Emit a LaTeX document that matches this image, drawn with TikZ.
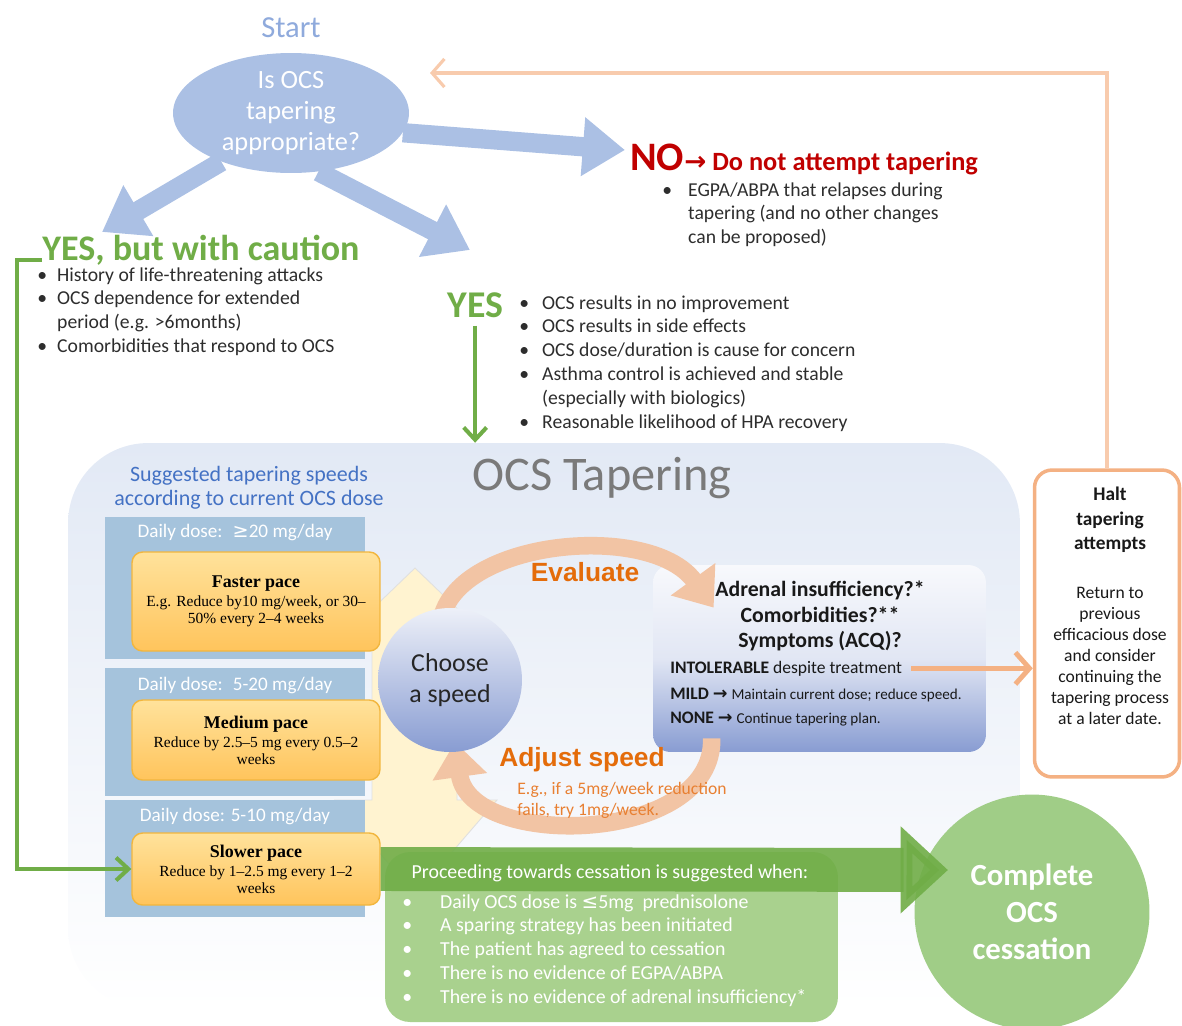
\documentclass[tikz,border=0pt]{standalone}
\usepackage{fontspec}
\setmainfont{Carlito}
\newfontfamily\arialfont{Liberation Sans}
\newfontfamily\timesfont{Liberation Serif}
\newfontfamily\symfont{DejaVu Sans}
\usetikzlibrary{arrows.meta,shapes.geometric}

\definecolor{startblue}{RGB}{143,170,220}
\definecolor{qblue}{RGB}{171,192,228}
\definecolor{okgreen}{RGB}{112,173,71}
\definecolor{nored}{RGB}{192,0,0}
\definecolor{evalorange}{RGB}{228,108,10}
\definecolor{noteorange}{RGB}{232,128,50}
\definecolor{arcorange}{RGB}{242,196,164}
\definecolor{haltorange}{RGB}{244,177,131}
\definecolor{backorange}{RGB}{248,203,173}
\definecolor{doseblue}{RGB}{165,195,220}
\definecolor{paceA}{RGB}{255,226,155}
\definecolor{paceB}{RGB}{255,196,92}
\definecolor{paceline}{RGB}{242,182,62}
\definecolor{panelblue}{RGB}{226,233,245}
\definecolor{evalblue}{RGB}{136,156,210}
\definecolor{lightgreen}{RGB}{169,209,142}
\definecolor{cessgreen}{RGB}{160,205,135}
\definecolor{bodytext}{RGB}{45,45,45}
\definecolor{suggblue}{RGB}{68,114,196}
\definecolor{cream}{RGB}{255,243,208}

\newcommand{\arr}{{\symfont →}}
\newcommand{\blist}[2]{\begin{tabular}[t]{@{}p{#1}@{}l@{}}#2\end{tabular}}

\begin{document}
\begin{tikzpicture}[x=0.02cm, y=-0.02cm, >=stealth,
  txt/.style={inner sep=0pt, font=\fontsize{11.2}{13.6}\selectfont, text=bodytext},
  bigarrow/.style={line width=11pt, qblue, -{Triangle[width=32pt,length=24pt]}},
  greenline/.style={line width=2.3pt, okgreen, -{Straight Barb[length=7pt,width=13pt]}},
  dosepanel/.style={fill=doseblue, minimum width=5.2cm, inner sep=0pt},
  dosehead/.style={inner sep=0pt, text=white, font=\fontsize{10.9}{12}\selectfont},
  pacebox/.style={draw=paceline, line width=0.8pt, rounded corners=6pt,
                  top color=paceA, bottom color=paceB, minimum width=4.96cm,
                  align=center, font=\timesfont\fontsize{8.8}{9.8}\selectfont},
  cyclearrow/.style={line width=10pt, arcorange, -{Triangle[width=30pt,length=20pt]}},
  cyclelabel/.style={text=evalorange, font=\arialfont\bfseries\fontsize{15}{18}\selectfont}]

  \useasboundingbox (0,0) rectangle (1182,1025);

  % Start question
  \node[font=\fontsize{17.4}{20}\selectfont, text=startblue] (startlbl) at (291,28) {Start};
  \node[ellipse, fill=qblue, minimum width=4.72cm, minimum height=2.4cm, inner sep=0pt,
        align=center, text=white, font=\fontsize{15}{17.6}\selectfont] (start) at (291,113)
    {Is OCS\\tapering\\appropriate?};

  % NO
  \node[inner sep=0pt, anchor=base west, text=nored, font=\bfseries] (no) at (630,170)
    {{\fontsize{23}{26}\selectfont NO}{\fontsize{15}{18}\selectfont\arr\ Do not attempt tapering}};
  \node[txt, anchor=base west] (nolist) at (662,196)
    {\blist{14.7pt}{\textbullet & EGPA/ABPA that relapses during\\
                    & tapering (and no other changes\\
                    & can be proposed)}};

  % YES, but with caution
  \node[inner sep=0pt, anchor=base west, text=okgreen, font=\bfseries\fontsize{20.5}{24}\selectfont]
    (caution) at (42,260) {YES, but with caution};
  \node[txt, anchor=base west] (caulist) at (37,281)
    {\blist{11.3pt}{\textbullet & History of life-threatening attacks\\
                    \textbullet & OCS dependence for extended\\
                    & period (e.g. >6months)\\
                    \textbullet & Comorbidities that respond to OCS}};

  % YES
  \node[inner sep=0pt, anchor=base west, text=okgreen, font=\bfseries\fontsize{21.5}{24}\selectfont]
    (yes) at (447,317) {YES};
  \node[txt, anchor=base west] (yeslist) at (519,309)
    {\blist{13pt}{\textbullet & OCS results in no improvement\\
                  \textbullet & OCS results in side effects\\
                  \textbullet & OCS dose/duration is cause for concern\\
                  \textbullet & Asthma control is achieved and stable\\
                  & (especially with biologics)\\
                  \textbullet & Reasonable likelihood of HPA recovery}};

  % Blue arrows
  \coordinate (notip) at (625,150);
  \coordinate (cautip) at (102,232);
  \coordinate (yestip) at (470,250);
  \draw[bigarrow] (start.-10) -- (notip);
  \draw[bigarrow] (start.215) -- (cautip);
  \draw[bigarrow] (start.295) -- (yestip);

  % OCS Tapering panel
  \node[rounded corners=1.6cm, minimum width=19.04cm, minimum height=11.32cm,
        top color=panelblue, bottom color=white] (taper) at (544,726) {};
  \node[text=black!52, font=\fontsize{27.5}{32}\selectfont] (taptitle) at (602,478) {OCS Tapering};
  \node[text=suggblue, align=center, font=\fontsize{12.5}{13.6}\selectfont] (sugg) at (249,488)
    {Suggested tapering speeds\\according to current OCS dose};

  % pale up/down arrow behind the speeds
  \filldraw[fill=cream, draw=black!12, line width=0.5pt] (415,568) -- (493,643) -- (457,643)
    -- (457,800) -- (497,800) -- (415,895) -- (335,800) -- (372,800) -- (372,643)
    -- (337,643) -- cycle;

  % Dose panels
  \node[dosepanel, minimum height=2.84cm] (dose1) at (235,588) {};
  \node[dosepanel, minimum height=2.56cm] (dose2) at (235,732) {};
  \node[dosepanel, minimum height=2.34cm] (dose3) at (235,858.5) {};
  \node[dosehead] (head1) at (235,532) {Daily dose:~ {\symfont ≥}20 mg/day};
  \node[dosehead] (head2) at (235,685) {Daily dose:~ 5-20 mg/day};
  \node[dosehead] (head3) at (235,816) {Daily dose: 5-10 mg/day};

  % Pace boxes
  \node[pacebox, minimum height=1.98cm] (fast) at (256,601.5)
    {{\fontsize{10.2}{12}\selectfont\bfseries Faster pace}\\[1pt]
     E.g. Reduce by10 mg/week, or 30–\\50\% every 2–4 weeks};
  \node[pacebox, minimum height=1.6cm] (medium) at (256,740)
    {{\fontsize{10.2}{12}\selectfont\bfseries Medium pace}\\[1pt]
     Reduce by 2.5–5 mg every 0.5–2\\weeks};
  \node[pacebox, minimum height=1.44cm] (slow) at (256,869)
    {{\fontsize{10.2}{12}\selectfont\bfseries Slower pace}\\[1pt]
     Reduce by 1–2.5 mg every 1–2\\weeks};

  % Evaluation box
  \node[rounded corners=10pt, minimum width=6.66cm, minimum height=3.74cm,
        top color=white!94!evalblue, bottom color=evalblue, middle color=white!75!evalblue]
    (eval) at (819.5,658.5) {};
  \node[align=center, font=\bfseries\fontsize{12.4}{14.7}\selectfont, text=black!90] (evalq) at (820,616)
    {Adrenal insufficiency?*\\Comorbidities?**\\Symptoms (ACQ)?};
  \node[txt, anchor=base west, text=black!90, font=\fontsize{10}{12}\selectfont] (intol) at (670,673)
    {\textbf{INTOLERABLE} despite treatment};
  \node[txt, anchor=base west, text=black!90, font=\fontsize{10}{12}\selectfont] (mild) at (670,699)
    {\textbf{MILD \arr} {\fontsize{8.6}{10}\selectfont Maintain current dose; reduce speed.}};
  \node[txt, anchor=base west, text=black!90, font=\fontsize{10}{12}\selectfont] (none) at (670,723)
    {\textbf{NONE \arr} {\fontsize{8.6}{10}\selectfont Continue tapering plan.}};

  % Evaluate / adjust cycle
  \coordinate (evalstart) at (440,628);
  \coordinate (adjend) at (455,742);
  \draw[cyclearrow] (evalstart) .. controls +(5,-88) and +(-64,-88) .. ([shift={(61,43)}]eval.north west);
  \draw[cyclearrow] ([shift={(59,-14)}]eval.south west) .. controls +(3,107) and +(15,108) .. (adjend);
  \node[cyclelabel] (evallbl) at (585,572) {Evaluate};
  \node[cyclelabel] (adjlbl) at (582,760) {Adjust speed};
  \node[txt, anchor=base west, text=noteorange, font=\fontsize{10}{11.9}\selectfont, align=left] (adjnote) at (517,815)
    {E.g., if a 5mg/week reduction\\fails, try 1mg/week.};

  % Choose a speed
  \node[circle, minimum size=2.88cm, inner sep=0pt, top color=white!85!evalblue, bottom color=evalblue,
        align=center, text=black!85, font=\fontsize{14.7}{17.6}\selectfont] (choose) at (450,680)
    {Choose\\a speed};

  % Halt box
  \node[draw=haltorange, line width=2pt, fill=white, rounded corners=10pt,
        minimum width=2.9cm, minimum height=6.14cm] (halt) at (1107,623.5) {};
  \node[align=center, font=\bfseries\fontsize{11}{13.9}\selectfont, text=black!90] (halttitle) at (1110,520)
    {Halt\\tapering\\attempts};
  \node[align=center, font=\fontsize{10}{11.9}\selectfont, text=black!90] (halttext) at (1110,656)
    {Return to\\previous\\efficacious dose\\and consider\\continuing the\\tapering process\\at a later date.};
  \draw[line width=2.8pt, haltorange, -{Straight Barb[length=8pt,width=18pt]}]
    ([xshift=5pt]intol.east) -- (intol.east -| halt.west);
  \coordinate (backtip) at (430,73);
  \draw[line width=1.8pt, backorange, -{Straight Barb[length=7pt,width=16pt]}] (halt.north) |- (backtip);

  % YES arrows (green)
  \draw[greenline] (yes.south) ++(0,8) -- (yes.south |- taper.north);
  \draw[greenline] (caution.base west) -- ++(-25,0) |- (slow.west);

  % Cessation
  \node[rounded corners=0.5cm, fill=lightgreen, minimum width=9.06cm, minimum height=3.4cm] (proc) at (611.5,937) {};
  \node[circle, fill=cessgreen, minimum size=4.7cm, inner sep=0pt, align=center, text=white,
        font=\bfseries\fontsize{17.5}{21}\selectfont] (cess) at (1032,912)
    {Complete\\OCS\\cessation};
  \coordinate (cesstip) at (948,870);
  \draw[line width=25pt, okgreen, opacity=0.9, -{Triangle[width=48pt,length=27pt]}] (slow.east) -- (cesstip);
  \node[text=white, font=\fontsize{11.3}{13}\selectfont] (proctitle) at (610,873)
    {Proceeding towards cessation is suggested when:};
  \node[txt, anchor=base west, text=white, font=\fontsize{11.3}{13.6}\selectfont] (proclist) at (402,908)
    {\blist{21.5pt}{\textbullet & Daily OCS dose is {\symfont ≤}5mg\ \ prednisolone\\
                    \textbullet & A sparing strategy has been initiated\\
                    \textbullet & The patient has agreed to cessation\\
                    \textbullet & There is no evidence of EGPA/ABPA\\
                    \textbullet & There is no evidence of adrenal insufficiency*}};
\end{tikzpicture}
\end{document}
